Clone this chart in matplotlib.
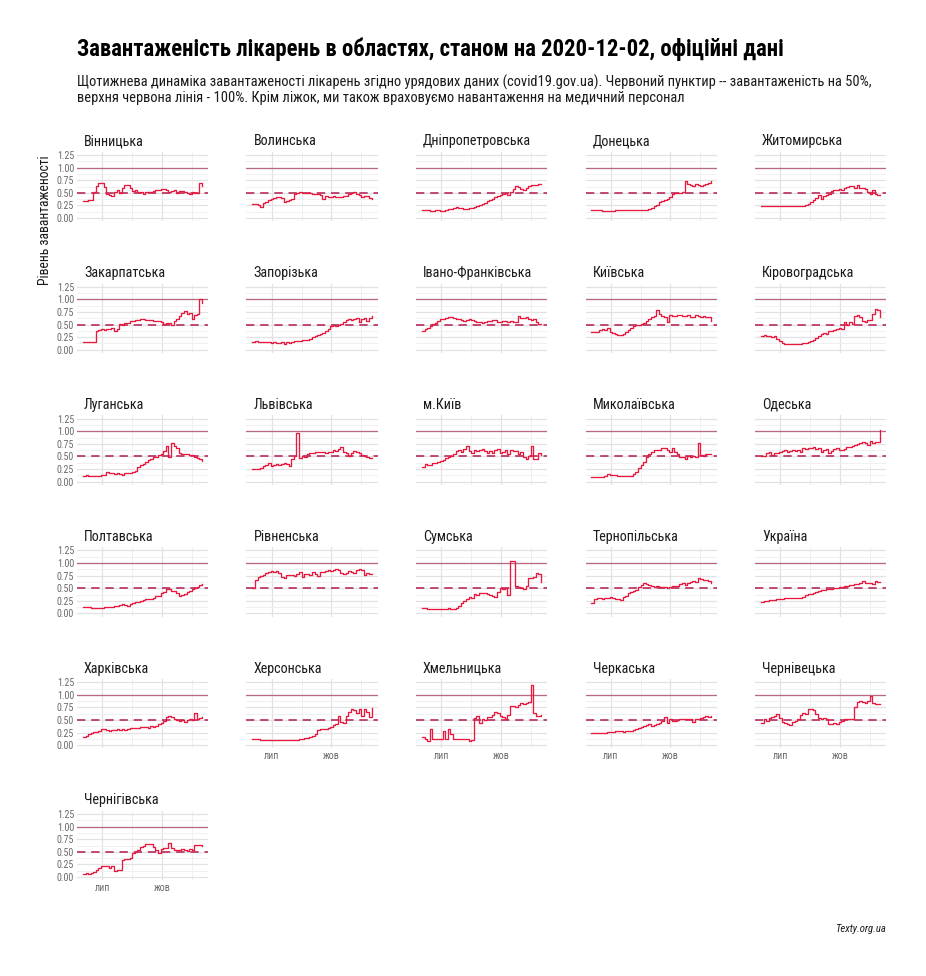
import numpy as np
import pandas as pd
import matplotlib
matplotlib.use("Agg")
import matplotlib.pyplot as plt
import matplotlib.dates as mdates

FONT = ['Liberation Sans Narrow', 'Roboto Condensed', 'Roboto', 'DejaVu Sans']
plt.rcParams['font.family'] = FONT

# ---------------- data (occupancy share, every 4 days from 2020-06-01) ----------------
dates = pd.date_range('2020-06-01', periods=47, freq='4D')

regions = ["Вінницька", "Волинська", "Дніпропетровська", "Донецька", "Житомирська",
           "Закарпатська", "Запорізька", "Івано-Франківська", "Київська", "Кіровоградська",
           "Луганська", "Львівська", "м.Київ", "Миколаївська", "Одеська",
           "Полтавська", "Рівненська", "Сумська", "Тернопільська", "Україна",
           "Харківська", "Херсонська", "Хмельницька", "Черкаська", "Чернівецька",
           "Чернігівська"]

vinnytska = [0.33, 0.34, 0.35, 0.35, 0.52, 0.64, 0.69, 0.69, 0.62, 0.47, 0.45, 0.43, 0.52, 0.56, 0.50, 0.60,
             0.66, 0.66, 0.60, 0.53, 0.55, 0.52, 0.51, 0.48, 0.51, 0.51, 0.51, 0.53, 0.55, 0.55, 0.57, 0.58,
             0.55, 0.52, 0.53, 0.55, 0.50, 0.53, 0.54, 0.51, 0.50, 0.48, 0.51, 0.50, 0.50, 0.70, 0.63]
volynska = [0.28, 0.27, 0.26, 0.22, 0.30, 0.32, 0.35, 0.38, 0.40, 0.41, 0.41, 0.40, 0.32, 0.34, 0.36, 0.38,
            0.48, 0.50, 0.51, 0.49, 0.49, 0.49, 0.49, 0.48, 0.48, 0.47, 0.46, 0.38, 0.44, 0.42, 0.41, 0.43,
            0.42, 0.41, 0.41, 0.43, 0.44, 0.47, 0.49, 0.51, 0.48, 0.45, 0.41, 0.43, 0.44, 0.39, 0.38]
dnipro = [0.15, 0.16, 0.15, 0.14, 0.14, 0.15, 0.16, 0.14, 0.13, 0.15, 0.17, 0.18, 0.19, 0.21, 0.20, 0.19,
          0.18, 0.17, 0.19, 0.20, 0.22, 0.24, 0.26, 0.28, 0.30, 0.33, 0.36, 0.38, 0.41, 0.43, 0.45, 0.48,
          0.49, 0.45, 0.52, 0.58, 0.64, 0.62, 0.58, 0.56, 0.60, 0.63, 0.65, 0.66, 0.66, 0.67, 0.68]
donetska = [0.15, 0.15, 0.15, 0.15, 0.14, 0.14, 0.14, 0.14, 0.14, 0.15, 0.15, 0.15, 0.15, 0.15, 0.15, 0.15,
            0.15, 0.15, 0.15, 0.15, 0.15, 0.15, 0.17, 0.20, 0.24, 0.26, 0.31, 0.34, 0.36, 0.38, 0.42, 0.48,
            0.49, 0.49, 0.50, 0.52, 0.73, 0.68, 0.66, 0.64, 0.67, 0.65, 0.63, 0.65, 0.68, 0.70, 0.73]
zhytomyrska = [0.23, 0.23, 0.24, 0.24, 0.23, 0.24, 0.24, 0.24, 0.24, 0.24, 0.23, 0.23, 0.23, 0.23, 0.23, 0.23,
               0.24, 0.25, 0.28, 0.32, 0.36, 0.40, 0.45, 0.38, 0.43, 0.45, 0.48, 0.53, 0.55, 0.56, 0.57, 0.55,
               0.60, 0.62, 0.63, 0.64, 0.60, 0.65, 0.60, 0.60, 0.58, 0.52, 0.48, 0.56, 0.48, 0.46, 0.46]
zakarpatska = [0.15, 0.15, 0.15, 0.15, 0.15, 0.38, 0.40, 0.41, 0.40, 0.42, 0.41, 0.43, 0.38, 0.42, 0.51, 0.50,
               0.53, 0.54, 0.57, 0.58, 0.59, 0.60, 0.61, 0.61, 0.60, 0.59, 0.59, 0.58, 0.58, 0.57, 0.55, 0.52,
               0.53, 0.53, 0.50, 0.58, 0.62, 0.68, 0.74, 0.76, 0.72, 0.74, 0.62, 0.70, 0.72, 1.00, 0.93]
zaporizka = [0.16, 0.18, 0.15, 0.15, 0.15, 0.15, 0.15, 0.14, 0.15, 0.14, 0.13, 0.15, 0.12, 0.16, 0.13, 0.15,
             0.17, 0.18, 0.18, 0.20, 0.20, 0.19, 0.22, 0.25, 0.27, 0.29, 0.31, 0.34, 0.37, 0.41, 0.47, 0.49,
             0.48, 0.50, 0.51, 0.56, 0.60, 0.61, 0.59, 0.62, 0.63, 0.55, 0.62, 0.63, 0.58, 0.64, 0.68]
ivano_frankivska = [0.38, 0.41, 0.44, 0.48, 0.51, 0.53, 0.58, 0.62, 0.62, 0.63, 0.65, 0.66, 0.63, 0.62, 0.61, 0.60,
                    0.58, 0.60, 0.61, 0.60, 0.58, 0.56, 0.55, 0.53, 0.56, 0.57, 0.58, 0.59, 0.59, 0.56, 0.55, 0.57,
                    0.57, 0.55, 0.58, 0.56, 0.55, 0.68, 0.63, 0.64, 0.65, 0.61, 0.60, 0.61, 0.56, 0.52, 0.51]
kyivska = [0.36, 0.35, 0.36, 0.40, 0.41, 0.39, 0.44, 0.36, 0.33, 0.31, 0.30, 0.30, 0.32, 0.36, 0.40, 0.44,
           0.48, 0.49, 0.50, 0.52, 0.54, 0.58, 0.61, 0.66, 0.68, 0.78, 0.71, 0.68, 0.66, 0.56, 0.69, 0.68,
           0.67, 0.69, 0.70, 0.68, 0.67, 0.70, 0.66, 0.65, 0.70, 0.68, 0.66, 0.67, 0.66, 0.66, 0.58]
kirovohradska = [0.28, 0.29, 0.28, 0.28, 0.25, 0.28, 0.22, 0.17, 0.13, 0.12, 0.11, 0.11, 0.11, 0.11, 0.11, 0.12,
                 0.13, 0.14, 0.15, 0.18, 0.20, 0.24, 0.27, 0.31, 0.34, 0.32, 0.38, 0.38, 0.40, 0.41, 0.43, 0.42,
                 0.56, 0.50, 0.55, 0.52, 0.68, 0.69, 0.66, 0.58, 0.56, 0.60, 0.59, 0.72, 0.80, 0.78, 0.65]
luhanska = [0.12, 0.13, 0.12, 0.11, 0.11, 0.12, 0.12, 0.13, 0.13, 0.20, 0.17, 0.17, 0.16, 0.17, 0.16, 0.14,
            0.17, 0.18, 0.18, 0.20, 0.22, 0.28, 0.32, 0.34, 0.38, 0.42, 0.45, 0.48, 0.49, 0.52, 0.55, 0.61,
            0.71, 0.48, 0.76, 0.70, 0.66, 0.56, 0.55, 0.54, 0.55, 0.53, 0.52, 0.48, 0.47, 0.44, 0.41]
lvivska = [0.25, 0.25, 0.25, 0.27, 0.30, 0.32, 0.37, 0.31, 0.33, 0.35, 0.33, 0.34, 0.36, 0.35, 0.31, 0.45,
           0.50, 0.97, 0.46, 0.50, 0.49, 0.54, 0.56, 0.57, 0.59, 0.58, 0.59, 0.58, 0.57, 0.59, 0.59, 0.62,
           0.61, 0.64, 0.69, 0.59, 0.56, 0.51, 0.56, 0.60, 0.59, 0.57, 0.52, 0.50, 0.49, 0.47, 0.46]
kyiv_city = [0.28, 0.34, 0.32, 0.33, 0.36, 0.36, 0.38, 0.41, 0.42, 0.47, 0.49, 0.50, 0.55, 0.60, 0.63, 0.58,
             0.65, 0.71, 0.60, 0.56, 0.62, 0.60, 0.63, 0.65, 0.61, 0.56, 0.61, 0.57, 0.62, 0.65, 0.56, 0.59,
             0.63, 0.55, 0.62, 0.60, 0.61, 0.54, 0.58, 0.48, 0.45, 0.50, 0.71, 0.45, 0.45, 0.56, 0.52]
mykolaivska = [0.10, 0.10, 0.09, 0.09, 0.10, 0.11, 0.15, 0.14, 0.13, 0.13, 0.12, 0.12, 0.12, 0.12, 0.11, 0.12,
               0.15, 0.19, 0.26, 0.33, 0.38, 0.48, 0.55, 0.59, 0.62, 0.62, 0.63, 0.66, 0.66, 0.62, 0.58, 0.66,
               0.58, 0.55, 0.48, 0.49, 0.45, 0.50, 0.48, 0.50, 0.48, 0.76, 0.52, 0.50, 0.55, 0.54, 0.54]
odeska = [0.50, 0.50, 0.57, 0.59, 0.52, 0.57, 0.56, 0.59, 0.60, 0.62, 0.59, 0.61, 0.62, 0.61, 0.62, 0.59,
          0.66, 0.64, 0.67, 0.66, 0.68, 0.65, 0.66, 0.59, 0.62, 0.64, 0.57, 0.61, 0.64, 0.66, 0.63, 0.62,
          0.64, 0.69, 0.69, 0.70, 0.73, 0.74, 0.77, 0.78, 0.76, 0.73, 0.80, 0.77, 0.78, 0.79, 1.03]
poltavska = [0.12, 0.12, 0.12, 0.11, 0.11, 0.11, 0.11, 0.11, 0.12, 0.12, 0.13, 0.13, 0.14, 0.14, 0.16, 0.18,
             0.17, 0.15, 0.18, 0.20, 0.22, 0.23, 0.25, 0.27, 0.29, 0.29, 0.28, 0.31, 0.34, 0.35, 0.40, 0.42,
             0.49, 0.48, 0.45, 0.45, 0.40, 0.35, 0.36, 0.38, 0.42, 0.44, 0.48, 0.50, 0.53, 0.56, 0.58]
rivnenska = [0.51, 0.66, 0.72, 0.75, 0.77, 0.80, 0.83, 0.84, 0.82, 0.84, 0.80, 0.72, 0.71, 0.77, 0.77, 0.77,
             0.74, 0.78, 0.82, 0.72, 0.79, 0.78, 0.76, 0.82, 0.79, 0.75, 0.82, 0.83, 0.84, 0.86, 0.85, 0.86,
             0.88, 0.87, 0.80, 0.78, 0.81, 0.84, 0.82, 0.81, 0.86, 0.88, 0.87, 0.76, 0.81, 0.78, 0.78]
sumska = [0.10, 0.10, 0.09, 0.09, 0.09, 0.09, 0.09, 0.09, 0.09, 0.09, 0.10, 0.09, 0.09, 0.10, 0.15, 0.20,
          0.24, 0.28, 0.33, 0.31, 0.38, 0.36, 0.40, 0.41, 0.40, 0.38, 0.36, 0.34, 0.33, 0.42, 0.50, 0.49,
          0.51, 0.36, 1.04, 1.03, 0.55, 0.53, 0.51, 0.48, 0.54, 0.71, 0.70, 0.72, 0.81, 0.78, 0.62]
ternopilska = [0.20, 0.28, 0.30, 0.30, 0.28, 0.31, 0.30, 0.32, 0.31, 0.28, 0.28, 0.27, 0.32, 0.35, 0.41, 0.42,
               0.45, 0.47, 0.52, 0.56, 0.61, 0.58, 0.57, 0.54, 0.53, 0.55, 0.52, 0.53, 0.52, 0.50, 0.53, 0.55,
               0.54, 0.55, 0.58, 0.60, 0.56, 0.61, 0.63, 0.65, 0.62, 0.71, 0.68, 0.67, 0.66, 0.64, 0.60]
ukraina = [0.23, 0.24, 0.25, 0.26, 0.26, 0.27, 0.28, 0.29, 0.29, 0.30, 0.30, 0.30, 0.30, 0.30, 0.31, 0.31,
           0.32, 0.36, 0.38, 0.38, 0.40, 0.42, 0.44, 0.46, 0.47, 0.48, 0.49, 0.49, 0.50, 0.51, 0.52, 0.53,
           0.54, 0.55, 0.56, 0.57, 0.58, 0.59, 0.60, 0.64, 0.60, 0.60, 0.60, 0.59, 0.65, 0.62, 0.63]
kharkivska = [0.16, 0.19, 0.22, 0.24, 0.26, 0.27, 0.28, 0.32, 0.33, 0.31, 0.28, 0.30, 0.30, 0.32, 0.31, 0.33,
              0.31, 0.33, 0.35, 0.35, 0.34, 0.35, 0.36, 0.36, 0.37, 0.35, 0.38, 0.36, 0.39, 0.42, 0.45, 0.48,
              0.55, 0.58, 0.56, 0.51, 0.50, 0.49, 0.50, 0.47, 0.50, 0.52, 0.50, 0.64, 0.52, 0.53, 0.56]
khersonska = [0.12, 0.12, 0.12, 0.11, 0.11, 0.11, 0.11, 0.11, 0.11, 0.10, 0.10, 0.10, 0.10, 0.10, 0.10, 0.10,
              0.11, 0.11, 0.12, 0.12, 0.14, 0.15, 0.16, 0.18, 0.23, 0.30, 0.33, 0.33, 0.33, 0.34, 0.36, 0.40,
              0.43, 0.58, 0.47, 0.45, 0.57, 0.65, 0.71, 0.70, 0.64, 0.71, 0.58, 0.71, 0.66, 0.55, 0.74]
khmelnytska = [0.17, 0.13, 0.08, 0.33, 0.12, 0.12, 0.12, 0.12, 0.28, 0.13, 0.32, 0.22, 0.12, 0.13, 0.12, 0.13,
               0.12, 0.12, 0.08, 0.10, 0.53, 0.57, 0.45, 0.52, 0.50, 0.56, 0.55, 0.60, 0.65, 0.63, 0.57, 0.56,
               0.52, 0.60, 0.77, 0.78, 0.75, 0.80, 0.83, 0.81, 0.83, 0.85, 1.20, 0.63, 0.57, 0.58, 0.60]
cherkaska = [0.25, 0.25, 0.25, 0.25, 0.25, 0.25, 0.26, 0.26, 0.27, 0.28, 0.29, 0.28, 0.27, 0.28, 0.29, 0.29,
             0.30, 0.32, 0.34, 0.36, 0.38, 0.41, 0.42, 0.39, 0.41, 0.43, 0.45, 0.48, 0.55, 0.45, 0.51, 0.48,
             0.49, 0.50, 0.51, 0.51, 0.51, 0.52, 0.51, 0.46, 0.51, 0.52, 0.54, 0.56, 0.58, 0.56, 0.58]
chernivetska = [0.45, 0.51, 0.48, 0.53, 0.55, 0.58, 0.62, 0.54, 0.47, 0.44, 0.42, 0.41, 0.46, 0.49, 0.52, 0.59,
                0.64, 0.62, 0.72, 0.72, 0.70, 0.61, 0.54, 0.51, 0.53, 0.52, 0.43, 0.42, 0.44, 0.42, 0.47, 0.49,
                0.51, 0.51, 0.52, 0.51, 0.76, 0.86, 0.87, 0.86, 0.84, 0.88, 0.97, 0.83, 0.82, 0.82, 0.82]
chernihivska = [0.06, 0.07, 0.05, 0.07, 0.10, 0.14, 0.17, 0.21, 0.21, 0.22, 0.17, 0.21, 0.11, 0.14, 0.14, 0.34,
                0.35, 0.36, 0.37, 0.47, 0.50, 0.54, 0.60, 0.62, 0.65, 0.65, 0.65, 0.60, 0.54, 0.47, 0.55, 0.57,
                0.58, 0.67, 0.57, 0.53, 0.54, 0.54, 0.55, 0.54, 0.52, 0.55, 0.54, 0.63, 0.64, 0.63, 0.62]

series = [vinnytska, volynska, dnipro, donetska, zhytomyrska,
          zakarpatska, zaporizka, ivano_frankivska, kyivska, kirovohradska,
          luhanska, lvivska, kyiv_city, mykolaivska, odeska,
          poltavska, rivnenska, sumska, ternopilska, ukraina,
          kharkivska, khersonska, khmelnytska, cherkaska, chernivetska,
          chernihivska]

y_ticks = [0.0, 0.25, 0.5, 0.75, 1.0, 1.25]
y_tick_labels = ["0.00", "0.25", "0.50", "0.75", "1.00", "1.25"]
x_ticks = ['2020-07-01', '2020-10-01']
x_tick_labels = ["лип", "жов"]
x_minor = ['2020-08-16', '2020-11-16']

title = "Завантаженість лікарень в областях, станом на 2020-12-02, офіційні дані"
subtitle = ("Щотижнева динаміка завантаженості лікарень згідно урядових даних (covid19.gov.ua). Червоний пунктир -- завантаженість на 50%,\n"
            "верхня червона лінія - 100%. Крім ліжок, ми також враховуємо навантаження на медичний персонал")
ylabel = "Рівень завантаженості"
caption = "Texty.org.ua"

# ---------------- layout ----------------
W, H = 926, 976
fig = plt.figure(figsize=(W / 100, H / 100), dpi=100)
fig.patch.set_facecolor('white')

LINE = '#e8193f'
REF100 = '#b8687f'
REF50 = '#b52c5c'
GRID = '#e2e2e2'
GRID_MINOR = '#eeeeee'
TICK = '#6b6b6b'

lefts = [77, 246.5, 416, 585.5, 755]
panel_w = 131
row_top0 = 151.85
row_step = 131.8
panel_h = 69.3

span = dates[-1] - dates[0]
xlim = (dates[0] - span * 0.05, dates[-1] + span * 0.05)
ylim = (-0.0625, 1.3125)
ncols = 5
n = len(regions)

for k, (name, vals) in enumerate(zip(regions, series)):
    r, c = divmod(k, ncols)
    top = row_top0 + row_step * r
    ax = fig.add_axes([lefts[c] / W, 1 - (top + panel_h) / H, panel_w / W, panel_h / H])
    ax.set_xlim(xlim)
    ax.set_ylim(ylim)
    for s in ax.spines.values():
        s.set_visible(False)
    ax.set_yticks(y_ticks)
    ax.set_yticks([0.125, 0.375, 0.625, 0.875, 1.125], minor=True)
    ax.set_xticks(pd.to_datetime(x_ticks))
    ax.set_xticks(pd.to_datetime(x_minor), minor=True)
    ax.grid(which='major', color=GRID, linewidth=0.9)
    ax.grid(which='minor', color=GRID_MINOR, linewidth=0.6)
    ax.set_axisbelow(True)
    ax.tick_params(which='both', length=0, pad=2, colors=TICK, labelsize=7.2)
    if c == 0:
        ax.set_yticklabels(y_tick_labels)
    else:
        ax.set_yticklabels([])
    below = k + ncols
    if below >= n:
        ax.set_xticklabels(x_tick_labels)
    else:
        ax.set_xticklabels([])
    ax.axhline(1.0, color=REF100, linewidth=0.9, zorder=2)
    ax.axhline(0.5, color=REF50, linewidth=1.2, linestyle=(0, (5, 3.5)), zorder=2)
    ax.step(dates, vals, where='post', color=LINE, linewidth=0.95, zorder=3)
    ax.text(7 / panel_w, 1 + 3.5 / panel_h, name, transform=ax.transAxes,
            ha='left', va='bottom', fontsize=10.2, color='#1a1a1a')

fig.text(77 / W, 1 - 49.5 / H, title, ha='left', va='center', fontsize=16.4,
         fontweight='bold', color='black')
fig.text(77 / W, 1 - 90 / H, subtitle, ha='left', va='center', fontsize=10.45,
         color='#1a1a1a', linespacing=1.1)
fig.text(45 / W, 1 - 220 / H, ylabel, ha='center', va='center', rotation=90,
         fontsize=9.8, color='#1a1a1a')
fig.text(886 / W, 1 - 929 / H, caption, ha='right', va='center', fontsize=7.7,
         style='italic', color='#1a1a1a')

fig.savefig('out.png', dpi=100, facecolor='white')
